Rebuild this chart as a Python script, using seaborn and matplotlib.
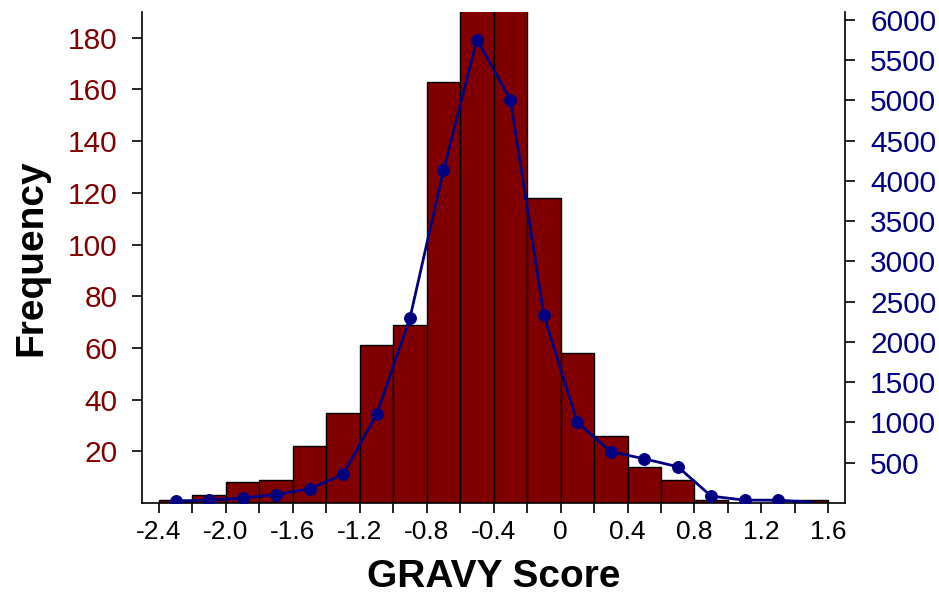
import numpy as np
import pandas as pd
import matplotlib
matplotlib.use("Agg")
import matplotlib.pyplot as plt
import seaborn as sns

# Histogram of GRAVY scores (bins of width 0.2)
bin_edges = [-2.4, -2.2, -2.0, -1.8, -1.6, -1.4, -1.2, -1.0, -0.8, -0.6, -0.4,
             -0.2, 0.0, 0.2, 0.4, 0.6, 0.8, 1.0, 1.2, 1.4, 1.6]
counts = [1, 3, 8, 9, 22, 35, 61, 69, 163, 214, 199,
          118, 58, 26, 14, 9, 1, 0, 0, 1]

# Reference distribution on the secondary axis
ref_x = [-2.3, -2.1, -1.9, -1.7, -1.5, -1.3, -1.1, -0.9, -0.7, -0.5, -0.3,
         -0.1, 0.1, 0.3, 0.5, 0.7, 0.9, 1.1, 1.3, 1.5]
ref_y = [25, 35, 60, 105, 175, 355, 1100, 2300, 4135, 5755, 5010,
         2330, 1000, 636, 549, 450, 85, 35, 35, 10]

xtick_vals = [-2.4, -2.2, -2.0, -1.8, -1.6, -1.4, -1.2, -1.0, -0.8, -0.6, -0.4,
              -0.2, 0.0, 0.2, 0.4, 0.6, 0.8, 1.0, 1.2, 1.4, 1.6]
xtick_text = ["-2.4", "", "-2.0", "", "-1.6", "", "-1.2", "", "-0.8", "", "-0.4",
              "", "0", "", "0.4", "", "0.8", "", "1.2", "", "1.6"]
left_ticks = [20, 40, 60, 80, 100, 120, 140, 160, 180]
right_ticks = [500, 1000, 1500, 2000, 2500, 3000, 3500, 4000, 4500, 5000, 5500, 6000]

sns.set_style("white")
plt.rcParams["font.family"] = ["Liberation Sans", "DejaVu Sans"]
plt.rcParams["text.color"] = "black"
plt.rcParams["axes.labelcolor"] = "black"

BAR = "#800000"
LINE = "#000080"

fig = plt.figure(figsize=(9.39, 5.97), dpi=100)
ax = fig.add_axes([0.1515, 0.1575, 0.7485, 0.8225])

centers = [(a + b) / 2 for a, b in zip(bin_edges[:-1], bin_edges[1:])]
hist_df = pd.DataFrame({"score": centers, "n": counts})
sns.histplot(data=hist_df, x="score", weights="n", bins=bin_edges, ax=ax,
             color=BAR, edgecolor="black", linewidth=1.0, alpha=1.0)
ax.set_xlim(-2.5, 1.7)
ax.set_ylim(0, 190)

ax2 = ax.twinx()
line_df = pd.DataFrame({"x": ref_x, "y": ref_y})
sns.lineplot(data=line_df, x="x", y="y", ax=ax2, color=LINE, linewidth=2.0,
             marker="o", markersize=8.5, markeredgecolor=LINE,
             markevery=list(range(len(ref_x) - 1)))
ax2.set_ylim(0, 6100)
ax2.set_xlim(-2.5, 1.7)

# Axis styling
for a in (ax, ax2):
    a.spines["top"].set_visible(False)
    for s in a.spines.values():
        s.set_color("black")
        s.set_linewidth(1.2)
ax.spines["right"].set_visible(False)
ax2.spines["left"].set_visible(False)
ax2.spines["bottom"].set_visible(False)

ax.set_xticks(xtick_vals)
ax.set_xticklabels(xtick_text)
ax.set_yticks(left_ticks)
ax.set_yticklabels([str(v) for v in left_ticks])
ax2.set_yticks(right_ticks)
ax2.set_yticklabels([str(v) for v in right_ticks])

ax.tick_params(axis="x", direction="out", length=7, width=1.2, color="black",
               labelsize=19, labelcolor="black", pad=5, bottom=True)
ax.tick_params(axis="y", direction="out", length=7, width=1.2, color="black",
               labelsize=21.5, labelcolor=BAR, pad=11, left=True)
ax2.tick_params(axis="y", direction="out", length=7, width=1.2, color="black",
                labelsize=21.5, labelcolor=LINE, pad=11, right=True)

ax.set_xlabel("GRAVY Score", fontsize=28, fontweight="bold", labelpad=11,
              color="black")
ax.set_ylabel("Frequency", fontsize=28, fontweight="bold", labelpad=13,
              color="black")
ax2.set_ylabel("")
ax.grid(False)
ax2.grid(False)

fig.savefig("out.png", dpi=100)
